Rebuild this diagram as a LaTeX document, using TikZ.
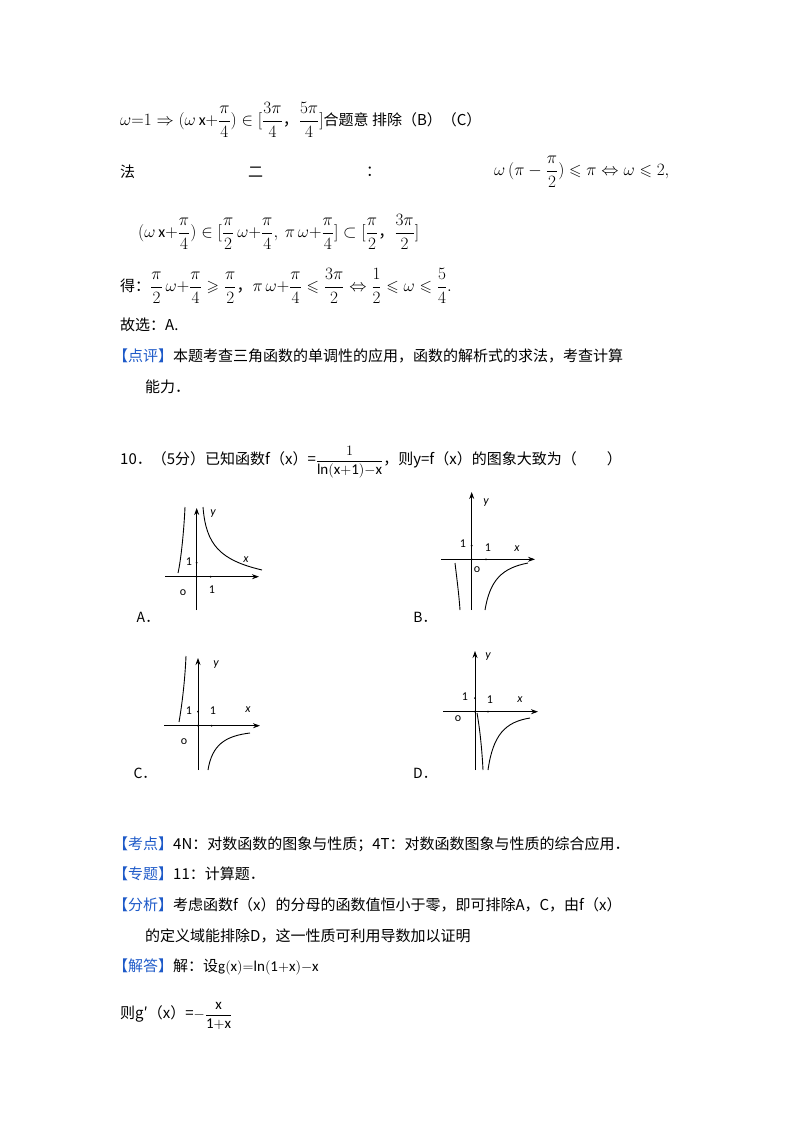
\documentclass[tikz,border=0pt]{standalone}
\usepackage{amsmath,amssymb}
\usepackage{fontspec}
\usetikzlibrary{arrows.meta}
\setmainfont{Carlito}
\newfontfamily\cjk{Noto Sans CJK SC}
\definecolor{tagblue}{RGB}{30,90,200}
\newcommand{\tg}[1]{{\color{tagblue}【#1】}}
\newcommand{\cm}{\text{\cjk ，}}
\begin{document}
\begin{tikzpicture}[x=1pt,y=-1pt,
  txt/.style={anchor=west,inner sep=0pt,font=\fontsize{15}{18}\selectfont\cjk},
  ax/.style={line width=0.8pt,-{Stealth[length=7pt,width=5pt]}},
  cv/.style={line width=0.9pt},
  lb/.style={inner sep=0pt,font=\fontsize{12}{14}\selectfont},
  lbl/.style={inner sep=0pt,font=\fontsize{14}{16}\selectfont\cjk},
  lbi/.style={inner sep=0pt,font=\fontsize{12}{14}\selectfont\itshape\rmfamily}]
\useasboundingbox (0,0) rectangle (800,1132);
\node[txt] (l1) at (120,120) {\fontsize{16}{18}\selectfont$\omega{=}1\Rightarrow(\omega\,\mathrm{x}{+}\dfrac{\pi}{4})\in[\dfrac{3\pi}{4}\cm\dfrac{5\pi}{4}]$\fontsize{15}{18}\selectfont 合题意 排除（B）（C）};
\node[txt] (l2a) at (120,172) {法};
\node[txt] (l2b) at (248,172) {二};
\node[txt] (l2c) at (366,172) {：};
\node[txt] (l2d) at (494,172) {\fontsize{16}{18}\selectfont$\omega\,(\pi-\dfrac{\pi}{2})\leqslant\pi\Leftrightarrow\omega\leqslant2,$};
\node[txt] (l3) at (138,232) {\fontsize{16}{18}\selectfont$(\omega\,\mathrm{x}{+}\dfrac{\pi}{4})\in[\dfrac{\pi}{2}\,\omega{+}\dfrac{\pi}{4},\ \pi\,\omega{+}\dfrac{\pi}{4}]\subset[\dfrac{\pi}{2}\cm\dfrac{3\pi}{2}]$};
\node[txt] (l4) at (120,286) {得：\fontsize{16}{18}\selectfont$\dfrac{\pi}{2}\,\omega{+}\dfrac{\pi}{4}\geqslant\dfrac{\pi}{2}\cm\pi\,\omega{+}\dfrac{\pi}{4}\leqslant\dfrac{3\pi}{2}\Leftrightarrow\dfrac{1}{2}\leqslant\omega\leqslant\dfrac{5}{4}.$};
\node[txt] (l5) at (120,325) {故选：A.};
\node[txt] (l6) at (113,356) {\tg{点评}本题考查三角函数的单调性的应用，函数的解析式的求法，考查计算};
\node[txt] (l7) at (145,387) {能力．};
\node[txt] (q) at (120,462) {10．（5分）已知函数f（x）=$\dfrac{1}{\mathrm{ln(x{+}1){-}x}}$，则y=f（x）的图象大致为（　　）};
% Graph A
\node[lbl] (nA) at (148,617) {A．};
\coordinate (ay0) at (196.7,610); \coordinate (ay1) at (196.7,508);
\coordinate (ax0) at (165,576.7); \coordinate (ax1) at (259,576.7);
\draw[ax] (ay0) -- (ay1); \draw[ax] (ax0) -- (ax1);
\fill (196.7,562.7) circle (1pt) (210.7,576.7) circle (1pt) (196.7,576.7) circle (1pt);
\node[lb] (a1) at (189,562) {1}; \node[lb] (a2) at (212,590) {1};
\node[lb] (ao) at (183,593) {o}; \node[lbi] (ay) at (213,514) {y}; \node[lbi] (axl) at (246,560) {x};
\draw[cv] (178,573) .. controls (181,560) and (184,530) .. (185,507);
\draw[cv] (203,507) .. controls (206,545) and (220,560) .. (262,570);
% Graph B
\node[lbl] (nB) at (425,617) {B．};
\draw[ax] (471.7,610) -- (471.7,492); \draw[ax] (441,559.3) -- (535,559.3);
\fill (471.7,545.7) circle (1pt) (486,559.3) circle (1pt) (471.7,559.3) circle (1pt);
\node[lb] (b1) at (463,544) {1}; \node[lb] (b2) at (488,548) {1};
\node[lb] (bo) at (477,570) {o}; \node[lbi] (by) at (486,503) {y}; \node[lbi] (bxl) at (517,549) {x};
\draw[cv] (455,563) .. controls (457,580) and (459,595) .. (460,610);
\draw[cv] (485,610) .. controls (490,580) and (502,568) .. (528,563);
% Graph C
\node[lbl] (nC) at (145,773) {C．};
\draw[ax] (198,770) -- (198,658); \draw[ax] (164,725.7) -- (260,725.7);
\fill (198,711.7) circle (1pt) (211.7,725.7) circle (1pt) (198,725.7) circle (1pt);
\node[lb] (c1) at (189,711) {1}; \node[lb] (c2) at (213,711) {1};
\node[lb] (co) at (184,742) {o}; \node[lbi] (cy) at (216,665) {y}; \node[lbi] (cxl) at (248,710) {x};
\draw[cv] (179,722) .. controls (182,705) and (185,680) .. (186,656);
\draw[cv] (208,770) .. controls (212,745) and (225,736) .. (250,733);
% Graph D
\node[lbl] (nD) at (425,773) {D．};
\draw[ax] (475,770) -- (475,651); \draw[ax] (443,711.7) -- (538,711.7);
\fill (475,698) circle (1pt) (488,711.7) circle (1pt) (475,711.7) circle (1pt);
\node[lb] (d1) at (465,697) {1}; \node[lb] (d2) at (490,700) {1};
\node[lb] (do) at (458,719) {o}; \node[lbi] (dy) at (488,657) {y}; \node[lbi] (dxl) at (520,700) {x};
\draw[cv] (477,713) .. controls (480,730) and (482,750) .. (483,770);
\draw[cv] (488,770) .. controls (493,735) and (505,722) .. (530,718);
% bottom text
\node[txt] (k1) at (113,844) {\tg{考点}4N：对数函数的图象与性质；4T：对数函数图象与性质的综合应用．};
\node[txt] (k2) at (113,874) {\tg{专题}11：计算题．};
\node[txt] (k3) at (113,905) {\tg{分析}考虑函数f（x）的分母的函数值恒小于零，即可排除A，C，由f（x）};
\node[txt] (k4) at (145,936) {的定义域能排除D，这一性质可利用导数加以证明};
\node[txt] (k5) at (113,967) {\tg{解答}解：设$\mathrm{g(x){=}ln(1{+}x){-}x}$};
\node[txt] (k6) at (120,1016) {则g′（x）=$-\dfrac{\mathrm{x}}{\mathrm{1{+}x}}$};
\end{tikzpicture}
\end{document}
